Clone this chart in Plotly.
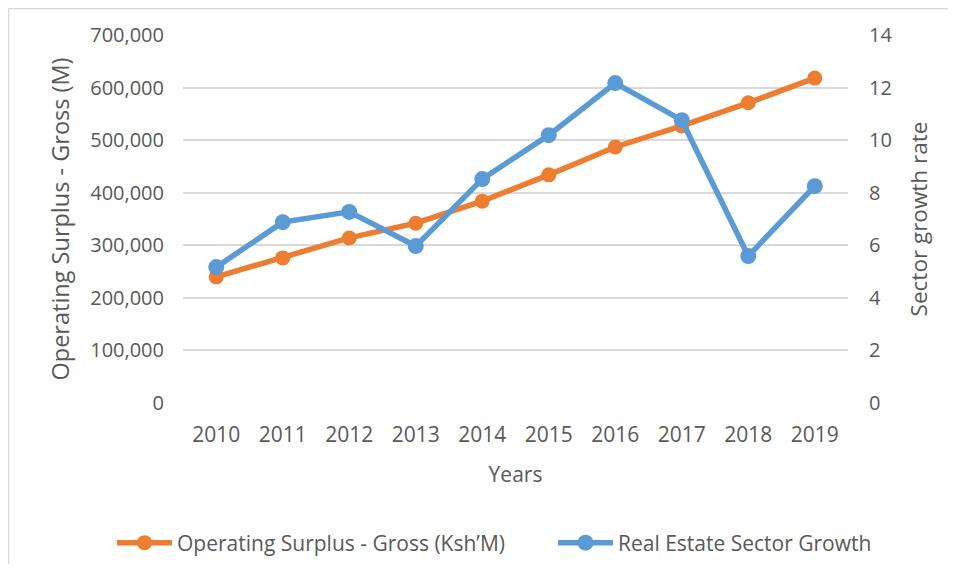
import plotly.graph_objects as go

years = ["2010", "2011", "2012", "2013", "2014", "2015", "2016", "2017", "2018", "2019"]
surplus = [240000, 276000, 314000, 342000, 384000, 434000, 487000, 527000, 571000, 618000]
growth = [5.17, 6.88, 7.27, 5.97, 8.52, 10.19, 12.17, 10.76, 5.59, 8.25]

left_ticks = [0, 100000, 200000, 300000, 400000, 500000, 600000, 700000]
left_labels = ["0", "100,000", "200,000", "300,000", "400,000", "500,000", "600,000", "700,000"]
right_ticks = [0, 2, 4, 6, 8, 10, 12, 14]

ORANGE = "#ED7D31"
BLUE = "#5B9BD5"
TXT = "#595959"
FONT = "Open Sans"

# page body has an 8px margin; figure sits at (8, 8)
OFF = 8
W, H = 956 - 2 * OFF, 580 - 3 * OFF
L, T = 183 - OFF, 35 - OFF
R = W - (848 - OFF)
B = H - (403 - OFF)
pw, ph = W - L - R, H - T - B

fig = go.Figure()
fig.add_trace(go.Scatter(
    x=years, y=surplus, name="Operating Surplus - Gross (Ksh\u2019M)",
    mode="lines+markers", line=dict(color=ORANGE, width=5.5),
    marker=dict(color=ORANGE, size=15), yaxis="y", legend="legend"))
fig.add_trace(go.Scatter(
    x=years, y=growth, name="Real Estate Sector Growth",
    mode="lines+markers", line=dict(color=BLUE, width=5.5),
    marker=dict(color=BLUE, size=16), yaxis="y2", legend="legend2"))


def px2x(px):
    return (px - OFF - L) / pw


def py2y(py):
    return (H - B - (py - OFF)) / ph


leg_y = (H - (543 - OFF)) / H
leg_common = dict(orientation="h", xref="container", yref="container",
                  xanchor="left", y=leg_y, yanchor="middle",
                  font=dict(size=21, color=TXT), itemwidth=55,
                  bgcolor="rgba(0,0,0,0)")

border = dict(color="#D9D9D9", width=1.5)

fig.update_layout(
    width=W, height=H,
    margin=dict(l=L, r=R, t=T, b=B),
    paper_bgcolor="white", plot_bgcolor="white",
    font=dict(family=FONT, size=21, color=TXT),
    showlegend=True,
    legend=dict(x=(112 - OFF) / W, **leg_common),
    legend2=dict(x=(553 - OFF) / W, **leg_common),
    xaxis=dict(type="category", range=[-0.5, 9.5], showgrid=False,
               showline=False, zeroline=False, ticks="",
               ticklabelstandoff=17, tickfont=dict(size=21, color=TXT),
               title=dict(text="Years", font=dict(size=21, color=TXT), standoff=20)),
    yaxis=dict(range=[0, 700000], tickvals=left_ticks, ticktext=left_labels,
               showgrid=True, gridcolor="#D9D9D9", gridwidth=2,
               zeroline=False, showline=False, ticks="",
               ticklabelstandoff=18, tickfont=dict(size=20, color=TXT),
               title=dict(text="Operating Surplus - Gross (M)",
                          font=dict(size=23.5, color=TXT), standoff=13)),
    yaxis2=dict(range=[0, 14], tickvals=right_ticks, overlaying="y", side="right",
                showgrid=False, zeroline=False, showline=False, ticks="",
                ticklabelstandoff=20, tickfont=dict(size=20, color=TXT),
                title=dict(text="Sector growth rate",
                           font=dict(size=22.5, color=TXT), standoff=19)),
    shapes=[
        dict(type="line", xref="paper", yref="paper",
             x0=px2x(8.5), x1=px2x(1000), y0=py2y(8.5), y1=py2y(8.5),
             line=border, layer="below"),
        dict(type="line", xref="paper", yref="paper",
             x0=px2x(8.5), x1=px2x(8.5), y0=py2y(8.5), y1=py2y(640),
             line=border, layer="below"),
    ],
)

fig.write_html(
    "out.html",
    post_script="document.documentElement.style.overflow='hidden';"
                "document.body.style.overflow='hidden';",
)
